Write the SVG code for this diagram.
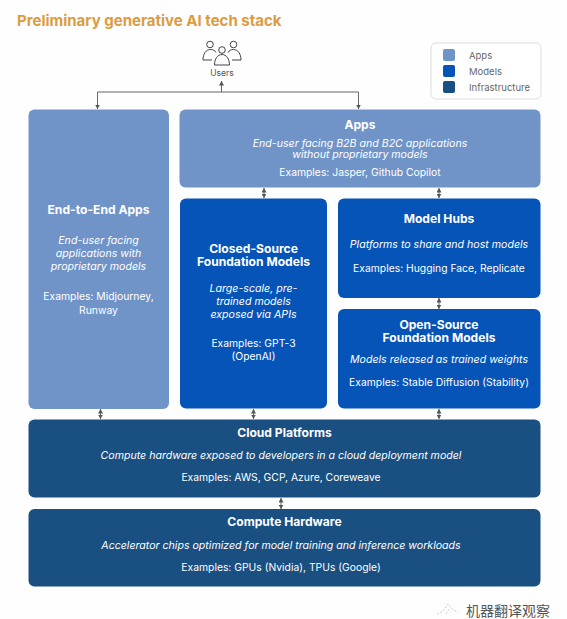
<svg xmlns="http://www.w3.org/2000/svg" width="567" height="619" viewBox="0 0 567 619">
<style>
text{font-family:"Inter","Liberation Sans",sans-serif;fill:#fff;text-anchor:middle;font-size:10px}
.b{font-weight:700;font-size:12.100px}
.i{font-style:italic;font-size:10.600px}
.e{font-size:10.350px}
.app{fill:#7094c8}.mod{fill:#0654b8}.inf{fill:#1a4f82}
.ln{fill:none;stroke:#666;stroke-width:1}
.ic{fill:none;stroke:#444;stroke-width:1}
text.lg{fill:#666;text-anchor:start;font-size:9.500px}
</style>
<defs>
<marker id="a" viewBox="0 0 5 5" refX="4.500" refY="2.500" markerWidth="5" markerHeight="5" markerUnits="userSpaceOnUse" orient="auto-start-reverse"><path d="M0 0L4.500 2.500L0 5z" fill="#555"/></marker>
</defs>
<rect width="567" height="619" fill="#fefefe"/>
<text id="title" x="17" y="26" style="text-anchor:start;font-size:15px;font-weight:700;fill:#dc9c3e">Preliminary generative AI tech stack</text>
<g id="users">
<circle cx="210" cy="44.500" r="3.300" class="ic"/>
<circle cx="222" cy="50" r="3.300" class="ic"/>
<circle cx="233.500" cy="44.500" r="3.300" class="ic"/>
<path class="ic" d="M203 60c0-6 3-10.500 7.500-10.500c2.500 0 4.500 1 5.500 3M203 60h9M228 52.500c1-2 3-3 5.500-3c4.500 0 7.500 4.500 7.500 10.500h-9"/>
<path class="ic" d="M214.500 65c0-6 3-10.500 7.500-10.500s7.500 4.500 7.500 10.500z"/>
<text x="222" y="76" style="fill:#555;font-size:8.500px">Users</text>
</g>
<g id="legend">
<rect x="431" y="43" width="110" height="56" rx="5" fill="#fff" stroke="#ddd"/>
<rect x="443" y="49" width="12" height="12" rx="2" class="app"/>
<rect x="443" y="65" width="12" height="12" rx="2" class="mod"/>
<rect x="443" y="81" width="12" height="12" rx="2" class="inf"/>
<text class="lg" x="469" y="58.500">Apps</text>
<text class="lg" x="469" y="74.500">Models</text>
<text class="lg" x="469" y="90.500">Infrastructure</text>
</g>
<g id="connectors">
<path class="ln" d="M97.500 109V92H358.500V109" marker-start="url(#a)" marker-end="url(#a)"/>
<path class="ln" d="M221.500 92V81" marker-end="url(#a)"/>
<path class="ln" d="M264 188V198" marker-start="url(#a)" marker-end="url(#a)"/>
<path class="ln" d="M439 188V198" marker-start="url(#a)" marker-end="url(#a)"/>
<path class="ln" d="M439 298V309" marker-start="url(#a)" marker-end="url(#a)"/>
<path class="ln" d="M100.500 409V419" marker-start="url(#a)" marker-end="url(#a)"/>
<path class="ln" d="M253.500 409V419" marker-start="url(#a)" marker-end="url(#a)"/>
<path class="ln" d="M439 409V419" marker-start="url(#a)" marker-end="url(#a)"/>
<path class="ln" d="M281 498V509" marker-start="url(#a)" marker-end="url(#a)"/>
</g>
<g id="end-to-end-apps">
<rect class="app" x="28.500" y="109.500" width="140.500" height="299.500" rx="6"/>
<text class="b" x="98.500" y="214">End-to-End Apps</text>
<text class="i" x="98.500" y="244">End-user facing</text>
<text class="i" x="98.500" y="257">applications with</text>
<text class="i" x="98.500" y="270">proprietary models</text>
<text class="e" x="98.500" y="300">Examples: Midjourney,</text>
<text class="e" x="98.500" y="313.500">Runway</text>
</g>
<g id="apps">
<rect class="app" x="179.500" y="109.500" width="361" height="78" rx="6"/>
<text class="b" x="360" y="129">Apps</text>
<text class="i" x="360" y="147">End-user facing B2B and B2C applications</text>
<text class="i" x="360" y="158">without proprietary models</text>
<text class="e" x="360" y="176">Examples: Jasper, Github Copilot</text>
</g>
<g id="closed-source">
<rect class="mod" x="180" y="198.500" width="147" height="210" rx="6"/>
<text class="b" x="253.500" y="253">Closed-Source</text>
<text class="b" x="253.500" y="266">Foundation Models</text>
<text class="i" x="253.500" y="292">Large-scale, pre-</text>
<text class="i" x="253.500" y="305">trained models</text>
<text class="i" x="253.500" y="318">exposed via APIs</text>
<text class="e" x="253.500" y="347">Examples: GPT-3</text>
<text class="e" x="253.500" y="360">(OpenAI)</text>
</g>
<g id="model-hubs">
<rect class="mod" x="338" y="198.500" width="202.500" height="99.500" rx="6"/>
<text class="b" x="439" y="222.500">Model Hubs</text>
<text class="i" x="439" y="248">Platforms to share and host models</text>
<text class="e" x="439" y="272">Examples: Hugging Face, Replicate</text>
</g>
<g id="open-source">
<rect class="mod" x="338" y="309" width="202.500" height="99.500" rx="6"/>
<text class="b" x="439" y="329">Open-Source</text>
<text class="b" x="439" y="341.500">Foundation Models</text>
<text class="i" x="439" y="363">Models released as trained weights</text>
<text class="e" x="439" y="386">Examples: Stable Diffusion (Stability)</text>
</g>
<g id="cloud-platforms">
<rect class="inf" x="28.500" y="419.500" width="512" height="78" rx="6"/>
<text class="b" x="284.500" y="437">Cloud Platforms</text>
<text class="i" x="281" y="459">Compute hardware exposed to developers in a cloud deployment model</text>
<text class="e" x="281" y="481">Examples: AWS, GCP, Azure, Coreweave</text>
</g>
<g id="compute-hardware">
<rect class="inf" x="28.500" y="509" width="512" height="77.500" rx="6"/>
<text class="b" x="284.500" y="526">Compute Hardware</text>
<text class="i" x="281" y="548.500">Accelerator chips optimized for model training and inference workloads</text>
<text class="e" x="281" y="570.500">Examples: GPUs (Nvidia), TPUs (Google)</text>
</g>
<g id="watermark">
<path d="M437 614l6-3l5-7l5 6l5 2M446 614l3-5" fill="none" stroke="#ccc" stroke-width="1" stroke-dasharray="2 1.500"/>
<text x="466" y="616" style="text-anchor:start;font-family:'Noto Sans CJK SC',sans-serif;font-size:14px;fill:#555">机器翻译观察</text>
</g>
</svg>
